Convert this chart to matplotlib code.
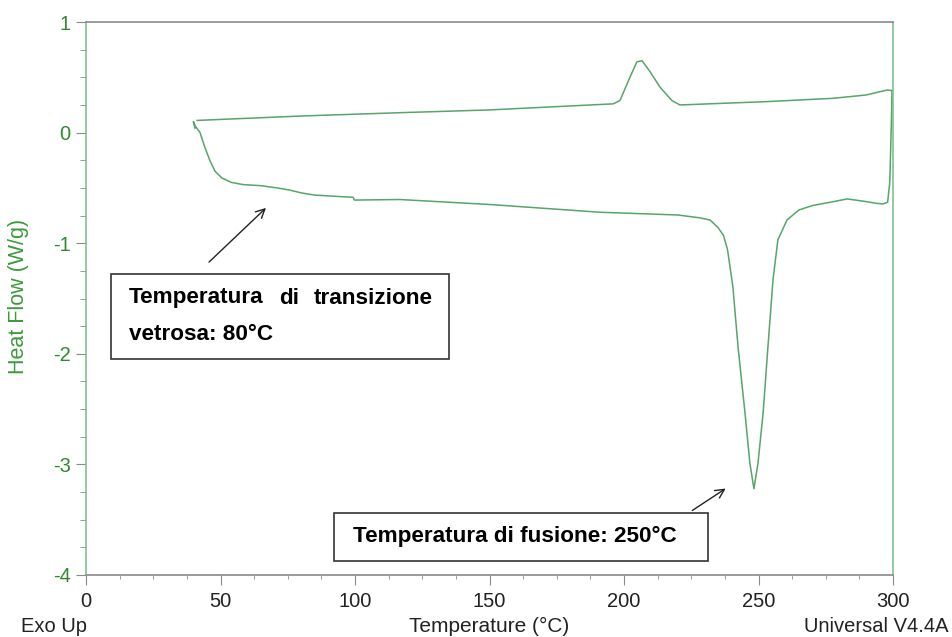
import matplotlib
matplotlib.use("Agg")
import matplotlib.pyplot as plt
from matplotlib.ticker import MultipleLocator
from matplotlib.patches import Rectangle

plt.rcParams['font.family'] = ['Liberation Sans', 'DejaVu Sans']
plt.rcParams['axes.unicode_minus'] = False

# Heating scan (lower curve)
heat_T = [40.5, 39.9, 40.6, 42.4, 44, 46, 48, 50.5, 54, 58.4, 65, 71, 75.8, 80, 85, 92,
          99.3, 99.8, 116.7, 150, 191, 220, 228, 232, 235, 237, 238.5, 240.5, 242.4,
          245, 246.8, 248.3, 249.8, 251.7, 253.5, 255.4, 257.2, 260.6, 265, 270,
          276.6, 283, 289, 294, 296.3, 298, 298.8, 299.2, 299.5, 299.6]
heat_Q = [0.04, 0.10, 0.06, 0.0, -0.12, -0.25, -0.35, -0.41, -0.45, -0.47, -0.48, -0.50,
          -0.52, -0.545, -0.565, -0.575, -0.585, -0.61, -0.605, -0.65, -0.72, -0.745,
          -0.77, -0.79, -0.86, -0.93, -1.06, -1.40, -1.94, -2.54, -2.99, -3.22, -2.99,
          -2.54, -1.94, -1.33, -0.97, -0.79, -0.70, -0.66, -0.63, -0.60, -0.62, -0.64,
          -0.645, -0.63, -0.45, -0.10, 0.20, 0.38]

# Cooling scan (upper curve)
cool_T = [299.6, 297.8, 290, 277.7, 253, 220.8, 217.8, 213.4, 209.7, 206.7, 204.8,
          202.2, 198.5, 196, 150, 116.7, 80, 41.3]
cool_Q = [0.38, 0.385, 0.34, 0.31, 0.28, 0.25, 0.29, 0.41, 0.55, 0.65, 0.64,
          0.50, 0.29, 0.26, 0.205, 0.18, 0.15, 0.11]

x_ticks = [0, 50, 100, 150, 200, 250, 300]
y_ticks = [1, 0, -1, -2, -3, -4]

W, H = 952, 637
fig = plt.figure(figsize=(W / 100, H / 100), dpi=100)
ax = fig.add_axes([86 / W, 1 - 575 / H, (893 - 86) / W, (575 - 22) / H])

line_c = '#56a56a'
ax.plot(heat_T, heat_Q, color=line_c, lw=1.1)
ax.plot(cool_T, cool_Q, color=line_c, lw=1.1)

ax.set_xlim(0, 300)
ax.set_ylim(-4, 1)
ax.set_xticks(x_ticks)
ax.set_yticks(y_ticks)
ax.xaxis.set_minor_locator(MultipleLocator(12.5))
ax.yaxis.set_minor_locator(MultipleLocator(0.25))

green_sp = '#7cc48a'
gray_sp = '#8a8a8a'
ax.spines['left'].set_color(green_sp)
ax.spines['right'].set_color(green_sp)
ax.spines['top'].set_color(gray_sp)
ax.spines['bottom'].set_color(gray_sp)
for s in ax.spines.values():
    s.set_linewidth(1.2)

ax.tick_params(axis='x', which='major', direction='out', length=7, color=gray_sp,
               labelsize=14.5, labelcolor='#222222', pad=5)
ax.tick_params(axis='x', which='minor', direction='out', length=3, color=gray_sp)
ax.tick_params(axis='y', which='major', direction='out', length=7, color=gray_sp,
               labelsize=14.5, labelcolor='#2f8a2f', pad=4)
ax.tick_params(axis='y', which='minor', direction='out', length=4, color=gray_sp)

fig.text(19 / W, 1 - 296 / H, 'Heat Flow (W/g)', rotation=90, color='#3a9a3a',
         fontsize=15.5, ha='center', va='center')
fig.text(489 / W, 1 - 626 / H, 'Temperature (°C)', color='#222222', fontsize=15,
         ha='center', va='center')
fig.text(21 / W, 1 - 626 / H, 'Exo Up', color='#222222', fontsize=14.5,
         ha='left', va='center')
fig.text(948 / W, 1 - 626 / H, 'Universal V4.4A', color='#222222', fontsize=14.5,
         ha='right', va='center')

def px(xp, yp):
    return (xp / W, 1 - yp / H)

# Annotation box 1
x0, y0 = px(111, 359)
x1, y1 = px(449, 274)
fig.patches.append(Rectangle((x0, y0), x1 - x0, y1 - y0, transform=fig.transFigure,
                             fill=True, facecolor='white', edgecolor='#333333', lw=1.2))
tb = dict(fontsize=16.2, fontweight='bold', color='black', va='center')
fig.text(*px(129, 298), 'Temperatura', ha='left', **tb)
fig.text(*px(289, 298), 'di', ha='center', **tb)
fig.text(*px(433, 298), 'transizione', ha='right', **tb)
fig.text(*px(129, 335), 'vetrosa: 80°C', ha='left', **tb)

# Annotation box 2
x0, y0 = px(334, 561)
x1, y1 = px(708, 513)
fig.patches.append(Rectangle((x0, y0), x1 - x0, y1 - y0, transform=fig.transFigure,
                             fill=True, facecolor='white', edgecolor='#333333', lw=1.2))
fig.text(*px(353, 536), 'Temperatura di fusione: 250°C', ha='left', **tb)

arrow_kw = dict(arrowstyle='->', color='#222222', lw=1.0, mutation_scale=16)
ax.annotate('', xy=px(268, 206), xycoords='figure fraction',
            xytext=px(207, 264), textcoords='figure fraction', arrowprops=arrow_kw)
ax.annotate('', xy=px(728, 487), xycoords='figure fraction',
            xytext=px(690, 512), textcoords='figure fraction', arrowprops=arrow_kw)

fig.savefig('out.png', dpi=100)
